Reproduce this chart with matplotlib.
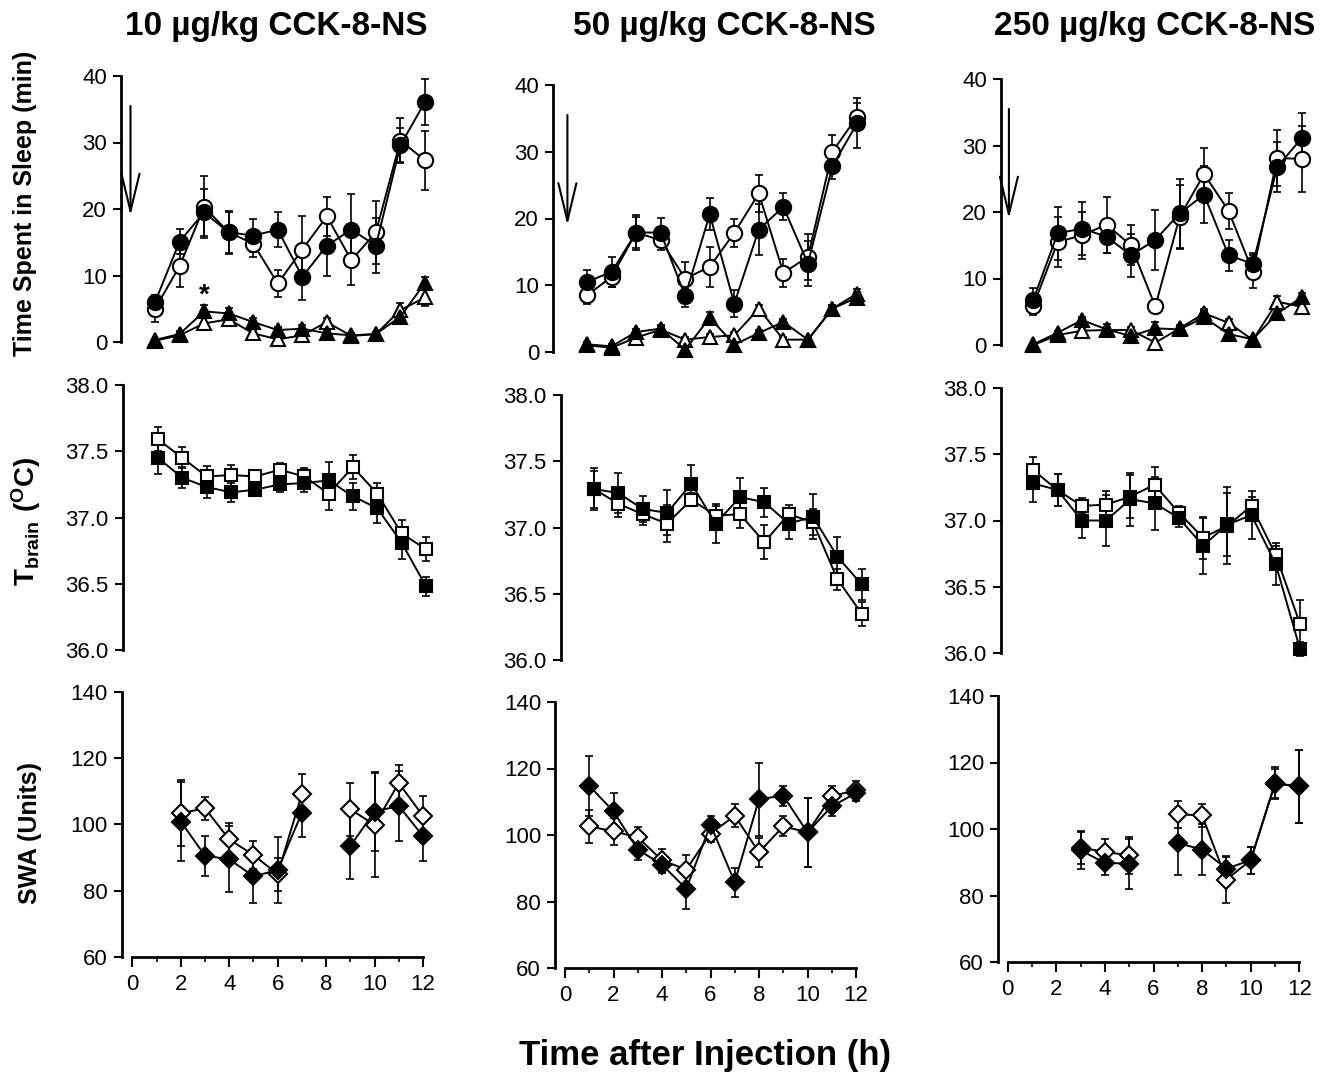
import numpy as np
import matplotlib
matplotlib.use("Agg")
import matplotlib.pyplot as plt

plt.rcParams['font.family'] = ['Liberation Sans', 'DejaVu Sans']
plt.rcParams['mathtext.fontset'] = 'custom'
plt.rcParams['mathtext.rm'] = 'Liberation Sans'
plt.rcParams['mathtext.bf'] = 'Liberation Sans:bold'

nan = np.nan
hours = np.arange(1, 13)

titles = ["10 \u00b5g/kg CCK-8-NS", "50 \u00b5g/kg CCK-8-NS", "250 \u00b5g/kg CCK-8-NS"]

# ---- Sleep (min): NREMS (circles) and REMS (triangles); filled / open ----
nrem_filled = [
    [6.0, 15.1, 19.5, 16.5, 16.0, 16.9, 9.8, 14.5, 16.9, 14.5, 29.6, 36.1],
    [10.5, 12.0, 17.9, 17.9, 8.35, 20.65, 7.25, 18.35, 21.75, 13.25, 27.85, 34.25],
    [6.8, 16.8, 17.5, 16.3, 13.5, 15.8, 19.8, 22.6, 13.5, 12.2, 26.8, 31.1],
]
nrem_filled_err = [
    [1.0, 1.9, 3.5, 3.1, 2.5, 2.6, 3.5, 4.5, 5.4, 4.1, 2.6, 3.4],
    [1.75, 2.2, 2.6, 2.2, 1.6, 2.35, 2.0, 3.85, 2.0, 3.4, 2.0, 3.75],
    [1.7, 4.0, 4.0, 2.4, 3.2, 4.5, 5.2, 4.3, 2.3, 1.6, 3.8, 3.8],
]
nrem_open = [
    [5.0, 11.4, 20.3, 16.5, 14.8, 8.8, 13.9, 18.9, 12.3, 16.5, 30.3, 27.3],
    [8.5, 11.25, 17.9, 16.75, 11.0, 12.75, 17.85, 23.75, 11.85, 14.25, 30.0, 35.25],
    [5.9, 15.5, 16.5, 18.1, 15.0, 5.8, 19.3, 25.7, 20.2, 11.0, 28.1, 28.0],
]
nrem_open_err = [
    [2.0, 3.1, 4.6, 3.2, 2.0, 2.1, 5.0, 2.9, 3.8, 4.7, 3.4, 4.5],
    [1.25, 1.5, 2.3, 1.5, 2.5, 3.0, 2.15, 2.75, 2.1, 3.5, 2.5, 2.0],
    [1.4, 3.7, 3.5, 4.2, 3.0, 1.0, 4.8, 3.9, 2.7, 2.5, 4.2, 5.0],
]
rem_filled = [
    [0.3, 1.2, 4.6, 4.3, 3.0, 1.8, 2.0, 1.3, 1.0, 1.2, 3.8, 8.9],
    [1.15, 0.85, 3.0, 3.5, 0.35, 5.15, 1.1, 2.85, 4.5, 1.85, 6.5, 8.15],
    [0.1, 1.85, 3.75, 2.35, 1.35, 2.5, 2.35, 4.15, 1.65, 0.85, 4.75, 7.15],
]
rem_filled_err = [
    [0.2, 0.4, 1.0, 0.8, 0.6, 0.5, 0.5, 0.4, 0.3, 0.3, 0.8, 0.8],
    [0.3, 0.3, 0.5, 0.5, 0.3, 0.8, 0.4, 0.5, 0.5, 0.3, 0.5, 0.8],
    [0.1, 0.3, 0.5, 0.8, 0.4, 1.0, 0.5, 1.0, 0.4, 0.3, 1.0, 0.7],
]
rem_open = [
    [0.2, 1.0, 2.8, 3.4, 1.3, 0.4, 1.0, 3.0, 0.9, 1.2, 4.8, 6.7],
    [1.0, 0.65, 2.15, 3.35, 1.85, 2.25, 2.5, 6.5, 1.85, 1.85, 6.5, 8.75],
    [0.0, 1.5, 2.15, 2.25, 2.25, 0.35, 2.5, 4.75, 3.35, 0.75, 6.5, 5.75],
]
rem_open_err = [
    [0.2, 0.3, 0.8, 0.6, 0.5, 0.3, 0.5, 0.6, 0.3, 0.3, 1.0, 1.3],
    [0.3, 0.3, 0.4, 0.5, 0.4, 0.5, 0.5, 0.6, 0.4, 0.3, 0.5, 0.7],
    [0.1, 0.3, 0.4, 0.5, 0.4, 0.3, 0.5, 0.6, 0.5, 0.3, 0.8, 0.8],
]
arrow_x = [0.0, 0.2, 0.0]
star_hour = 3
star_value = 7.0

# ---- Brain temperature (deg C) ----
tb_filled = [
    [37.45, 37.30, 37.23, 37.19, 37.21, 37.25, 37.26, 37.28, 37.16, 37.07, 36.81, 36.48],
    [37.29, 37.26, 37.14, 37.11, 37.33, 37.03, 37.23, 37.19, 37.03, 37.08, 36.78, 36.57],
    [37.28, 37.23, 37.00, 37.00, 37.16, 37.13, 37.02, 36.81, 36.97, 37.04, 36.67, 36.03],
]
tb_filled_err = [
    [0.12, 0.08, 0.08, 0.07, 0.05, 0.06, 0.07, 0.14, 0.10, 0.11, 0.12, 0.07],
    [0.14, 0.15, 0.10, 0.17, 0.14, 0.15, 0.14, 0.11, 0.12, 0.17, 0.15, 0.12],
    [0.14, 0.12, 0.13, 0.19, 0.20, 0.20, 0.07, 0.21, 0.24, 0.18, 0.16, 0.05],
]
tb_open = [
    [37.59, 37.45, 37.31, 37.32, 37.31, 37.36, 37.31, 37.18, 37.38, 37.18, 36.88, 36.76],
    [37.29, 37.18, 37.10, 37.03, 37.21, 37.09, 37.10, 36.89, 37.10, 37.04, 36.61, 36.35],
    [37.38, 37.23, 37.11, 37.12, 37.18, 37.27, 37.06, 36.87, 36.96, 37.11, 36.74, 36.22],
]
tb_open_err = [
    [0.09, 0.08, 0.08, 0.08, 0.05, 0.05, 0.06, 0.12, 0.09, 0.08, 0.10, 0.09],
    [0.16, 0.10, 0.08, 0.14, 0.05, 0.07, 0.10, 0.13, 0.07, 0.10, 0.08, 0.09],
    [0.10, 0.12, 0.06, 0.10, 0.16, 0.13, 0.05, 0.16, 0.29, 0.07, 0.07, 0.18],
]

# ---- SWA (units) ----
swa_filled = [
    [nan, 100.9, 90.6, 89.5, 84.4, 86.2, 103.6, nan, 93.5, 103.9, 105.6, 96.5],
    [114.8, 107.1, 95.6, 91.1, 83.8, 103.1, 85.8, 110.8, 111.8, 100.8, 108.6, 112.6],
    [nan, nan, 93.6, 89.8, 89.6, nan, 95.8, 93.8, 88.1, 90.6, 113.6, 112.8],
]
swa_filled_err = [
    [nan, 12.0, 6.0, 10.0, 8.0, 9.9, 7.5, nan, 10.0, 11.8, 10.5, 7.4],
    [9.0, 5.5, 3.0, 2.5, 6.0, 2.5, 4.4, 11.0, 3.0, 10.3, 3.0, 2.5],
    [nan, nan, 5.5, 3.7, 7.5, nan, 9.7, 7.7, 3.5, 4.0, 4.4, 11.0],
]
swa_open = [
    [nan, 103.4, 104.9, 95.5, 90.8, 85.0, 109.2, nan, 104.6, 99.9, 112.5, 102.6],
    [102.6, 101.1, 99.3, 92.4, 89.6, 100.4, 105.8, 94.8, 102.6, 100.8, 111.6, 113.6],
    [nan, nan, 94.4, 93.1, 92.1, nan, 104.4, 104.1, 84.8, 90.6, 113.8, 112.8],
]
swa_open_err = [
    [nan, 10.0, 3.5, 5.0, 4.3, 5.0, 6.0, nan, 8.0, 15.7, 5.5, 6.0],
    [5.0, 4.0, 3.0, 3.5, 4.5, 2.5, 3.5, 4.4, 3.0, 10.4, 3.0, 2.5],
    [nan, nan, 5.0, 4.0, 5.6, nan, 4.0, 3.5, 7.0, 4.0, 4.7, 11.0],
]

sleep_ticks = [0, 10, 20, 30, 40]
tb_ticks = [36.0, 36.5, 37.0, 37.5, 38.0]
swa_ticks = [60, 80, 100, 120, 140]
hour_ticks = [0, 2, 4, 6, 8, 10, 12]

# ---------------- layout (pixel geometry of each panel) ----------------
W, H = 1337, 1075
fig = plt.figure(figsize=(W / 100, H / 100), dpi=100)

# (spine_px, x0_px, x12_px, ytop_px, ybot_px)
geom = [
    [(121, 130.5, 425, 76, 342), (122.7, 133.6, 426, 385, 650), (121.7, 132.3, 423, 692, 957)],
    [(553, 562.5, 857, 85, 352), (560.7, 569.7, 861.7, 395, 660), (555, 565, 856, 702, 968)],
    [(1000.7, 1008.9, 1301.7, 79, 345), (1000.7, 1009, 1300, 388, 653), (998, 1007.7, 1299.3, 696, 962)],
]
ylims = [(0, 40), (36.0, 38.0), (60, 140)]
yticks = [sleep_ticks, tb_ticks, swa_ticks]
yfmt = ["{:.0f}", "{:.1f}", "{:.0f}"]


def make_axes(g, ylim):
    spine, x0, x12, yt, yb = g
    ux = (x12 - x0) / 12.0
    xl = (spine - x0) / ux
    xr = 12.45
    rp = x0 + xr * ux
    ax = fig.add_axes([spine / W, 1 - yb / H, (rp - spine) / W, (yb - yt) / H])
    ax.set_xlim(xl, xr)
    ax.set_ylim(*ylim)
    ax.patch.set_alpha(0)
    for s in ["top", "right"]:
        ax.spines[s].set_visible(False)
    ax.spines["left"].set_linewidth(2.0)
    ax.spines["left"].set_bounds(*ylim)
    ax.spines["bottom"].set_linewidth(2.0)
    return ax


def series(ax, y, e, marker, filled, ms):
    ax.errorbar(hours, y, yerr=e, fmt="none", ecolor="black", elinewidth=1.2,
                capsize=3, capthick=1.2, clip_on=False, zorder=2)
    ax.plot(hours, y, color="black", lw=1.4, marker=marker, ms=ms,
            mfc="black" if filled else "white", mec="black", mew=1.5,
            clip_on=False, zorder=4 if filled else 3)


for c in range(3):
    for r in range(3):
        ax = make_axes(geom[c][r], ylims[r])
        ax.set_yticks(yticks[r])
        ax.set_yticklabels([yfmt[r].format(v) for v in yticks[r]])
        ax.tick_params(axis="y", direction="out", length=6, width=1.5,
                       labelsize=16, pad=4)
        if r < 2:
            ax.spines["bottom"].set_visible(False)
            ax.set_xticks([])
        else:
            ax.spines["bottom"].set_bounds(0, 12)
            ax.set_xticks(hour_ticks)
            ax.set_xticks(hours[::2], minor=True)
            ax.tick_params(axis="x", which="major", direction="out", length=7,
                           width=1.5, labelsize=16, pad=5)
            ax.tick_params(axis="x", which="minor", direction="out", length=3.5,
                           width=1.2)
        if r == 0:
            series(ax, nrem_filled[c], nrem_filled_err[c], "o", True, 11)
            series(ax, nrem_open[c], nrem_open_err[c], "o", False, 11)
            series(ax, rem_filled[c], rem_filled_err[c], "^", True, 10)
            series(ax, rem_open[c], rem_open_err[c], "^", False, 10)
            ax.annotate("", xy=(arrow_x[c], 19.0), xytext=(arrow_x[c], 35.5),
                        arrowprops=dict(arrowstyle="->, head_length=2.7, head_width=0.65",
                                        lw=1.5, color="black", mutation_scale=10,
                                        shrinkA=0, shrinkB=0),
                        annotation_clip=False)
            if c == 0:
                ax.text(star_hour, star_value, "*", ha="center", va="center",
                        fontsize=20, fontweight="bold")
        elif r == 1:
            series(ax, tb_filled[c], tb_filled_err[c], "s", True, 8)
            series(ax, tb_open[c], tb_open_err[c], "s", False, 8)
        else:
            series(ax, swa_filled[c], swa_filled_err[c], "D", True, 9)
            series(ax, swa_open[c], swa_open_err[c], "D", False, 9)

# titles
title_x = [276, 724, 1155]
for c in range(3):
    fig.text(title_x[c] / W, 1 - 27 / H, titles[c], ha="center", va="center",
             fontsize=24, fontweight="bold")

# y labels
fig.text(25 / W, 1 - 203 / H, "Time Spent in Sleep (min)", rotation=90,
         ha="center", va="center", fontsize=18, fontweight="bold")
fig.text(26 / W, 1 - 521 / H, r"$\mathbf{T_{brain}\ (^{O}C)}$", rotation=90,
         ha="center", va="center", fontsize=20)
fig.text(30 / W, 1 - 833 / H, "SWA (Units)", rotation=90,
         ha="center", va="center", fontsize=18, fontweight="bold")

# x label
fig.text(705 / W, 1 - 1055 / H, "Time after Injection (h)", ha="center",
         va="center", fontsize=25, fontweight="bold")

fig.savefig("out.png", dpi=100)
